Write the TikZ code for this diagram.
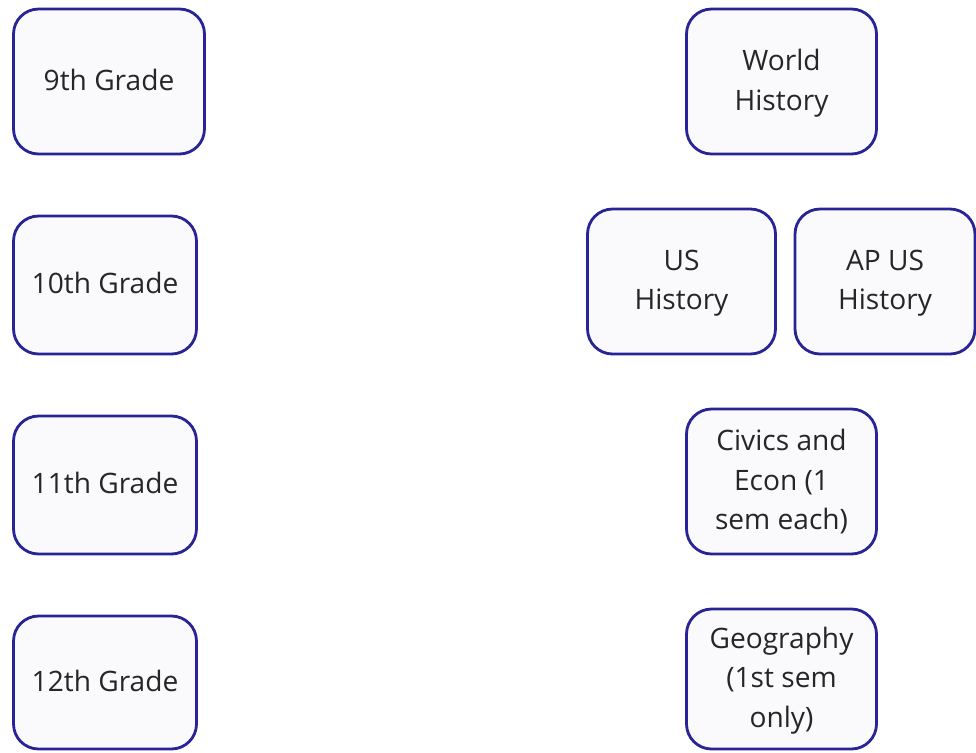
\documentclass[tikz,border=0pt]{standalone}
\usepackage{fontspec}
\setmainfont{Open Sans}
\usepackage{tikz}
\usetikzlibrary{positioning}

\definecolor{boxline}{RGB}{40,36,150}
\definecolor{boxfill}{RGB}{250,250,253}

\begin{document}
\begin{tikzpicture}[x=0.02cm,y=-0.02cm,
  box/.style={draw=boxline,fill=boxfill,line width=1.6pt,rounded corners=0.5cm,
    inner sep=0pt,align=center,font=\fontsize{16}{22.5}\selectfont,text=black!85,
    text depth=2pt}]
\useasboundingbox (0,0) rectangle (976,752);

% grades
\node[box,minimum width=3.82cm,minimum height=2.9cm] (g9) at (109,81.5) {9th Grade};
\node[box,minimum width=3.66cm,minimum height=2.76cm] (g10) at (105,285) {10th Grade};
\node[box,minimum width=3.66cm,minimum height=2.76cm] (g11) at (105,485) {11th Grade};
\node[box,minimum width=3.66cm,minimum height=2.66cm] (g12) at (105,682.5) {12th Grade};

% courses
\node[box,minimum width=3.8cm,minimum height=2.9cm] (world) at (781.5,81.5) {World\\History};
\node[box,minimum width=3.76cm,minimum height=2.9cm] (us) at (681.5,281.5) {US\\History};
\node[box,minimum width=3.6cm,minimum height=2.9cm] (apus) at (885,281.5) {AP US\\History};
\node[box,minimum width=3.8cm,minimum height=2.9cm] (civics) at (781.5,481.5) {Civics and\\Econ (1\\sem each)};
\node[box,minimum width=3.8cm,minimum height=2.8cm] (geo) at (781.5,679) {Geography\\(1st sem\\only)};

\end{tikzpicture}
\end{document}
